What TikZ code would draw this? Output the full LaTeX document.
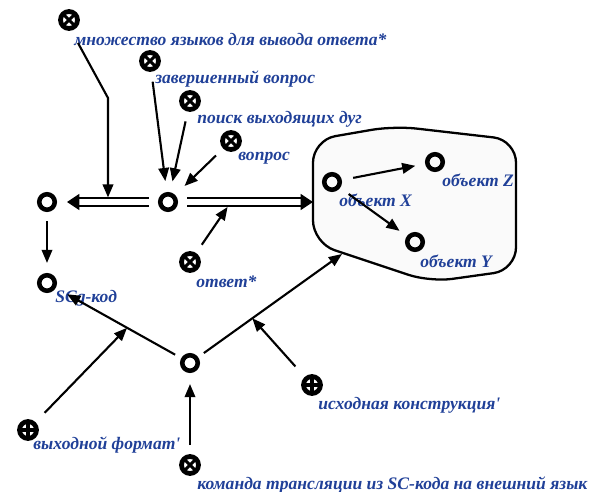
\documentclass[tikz,border=0pt]{standalone}
\usepackage{fontspec}
\setmainfont{Liberation Serif}
\usetikzlibrary{arrows.meta,calc}
\definecolor{tekst}{RGB}{32,64,152}
\tikzset{
  uzel/.style={circle,draw,line width=2.6pt,minimum size=0.31cm,inner sep=0pt},
  rol/.style={circle,draw,line width=2.7pt,minimum size=0.34cm,inner sep=0pt},
  rolx/.style={rol,path picture={\draw[line width=1.8pt] (path picture bounding box.north west) -- (path picture bounding box.south east) (path picture bounding box.north east) -- (path picture bounding box.south west);}},
  rolplus/.style={rol,path picture={\draw[line width=1.8pt] (path picture bounding box.north) -- (path picture bounding box.south) (path picture bounding box.east) -- (path picture bounding box.west);}},
  metka/.style={anchor=west,inner sep=0pt,text=tekst,font=\bfseries\itshape},
  dug/.style={line width=1.2pt,-{Triangle[length=7.5pt,width=6pt]}},
  dvoin/.style={double,double distance=3.4pt,line width=1.1pt,-{Triangle[length=7pt,width=9pt]}},
  oblast/.style={draw,line width=1.3pt,fill=gray!4,rounded corners=0.45cm}
}
\begin{document}
\begin{tikzpicture}[x=0.02cm,y=-0.02cm]
\useasboundingbox (0,0) rectangle (606,492);
% область с объектами
\draw[oblast] (313,140) -- (394,126) -- (516,140) -- (516,270) -- (430,282) -- (313,243) -- cycle;
\coordinate (oblW) at (313,202);
\coordinate (oblSW) at (342,254);

% узлы
\node[uzel] (vopr) at (168,202) {};
\node[uzel] (otv) at (47,202) {};
\node[uzel] (scg) at (47,283) {};
\node[uzel] (trans) at (190,363) {};
\node[uzel] (obX) at (332,182) {};
\node[uzel] (obZ) at (435,162) {};
\node[uzel] (obY) at (415,242) {};

% ролевые отношения
\node[rolx] (r1) at (69,20) {};
\node[rolx] (r2) at (150,61) {};
\node[rolx] (r3) at (190,101) {};
\node[rolx] (r4) at (231,141) {};
\node[rolx] (r5) at (190,262) {};
\node[rolplus] (r6) at (28,430) {};
\node[rolx] (r7) at (190,465) {};
\node[rolplus] (r8) at (312,385) {};

% подписи
\node[metka] at (74,40) {множество языков для вывода ответа*};
\node[metka] at (155,79) {завершенный вопрос};
\node[metka] at (197,119) {поиск выходящих дуг};
\node[metka] at (238,158) {вопрос};
\node[metka] at (196,282) {ответ*};
\node[metka] at (55,298) {SCg-код};
\node[metka] at (339,200) {объект X};
\node[metka] at (442,180) {объект Z};
\node[metka] at (420,261) {объект Y};
\node[metka] at (33,445) {выходной формат\textquotesingle};
\node[metka] at (318,405) {исходная конструкция\textquotesingle};
\node[metka] at (197,485) {команда трансляции из SC-кода на внешний язык};

% дуги
\draw[dvoin,shorten <=0.18cm,shorten >=0.2cm] (vopr) -- (otv);
\draw[dvoin,shorten <=0.18cm] (vopr) -- (oblW);
\coordinate (j1) at (108,202);
\coordinate (j2) at (231,202);
\coordinate (j3) at ($(trans)!0.44!(scg)$);
\coordinate (j4) at ($(trans)!0.41!(oblSW)$);

\draw[dug,shorten >=0.09cm] (r1) ++(9,23) -- ++(30,55) -- (j1);
\draw[dug,shorten <=0.2cm,shorten >=0.22cm] (r2) -- (vopr);
\draw[dug,shorten <=0.2cm,shorten >=0.22cm] (r3) -- (vopr);
\draw[dug,shorten <=0.2cm,shorten >=0.26cm] (r4) -- (vopr);
\draw[dug,shorten <=0.2cm,shorten >=0.12cm] (r5) -- (j2);
\draw[dug,shorten <=0.18cm,shorten >=0.2cm] (otv) -- (scg);
\draw[dug,shorten <=0.14cm,shorten >=0.26cm] (trans) -- (scg);
\draw[dug,shorten <=0.14cm] (trans) -- (oblSW);
\draw[dug,shorten <=0.26cm] (r6) -- (j3);
\draw[dug,shorten <=0.18cm,shorten >=0.22cm] (r7) -- (trans);
\draw[dug,shorten <=0.28cm] (r8) -- (j4);
\draw[dug,shorten <=0.23cm,shorten >=0.2cm] (obX) -- (obZ);
\draw[dug,shorten <=0.21cm,shorten >=0.18cm] (obX) -- (obY);
\end{tikzpicture}
\end{document}
